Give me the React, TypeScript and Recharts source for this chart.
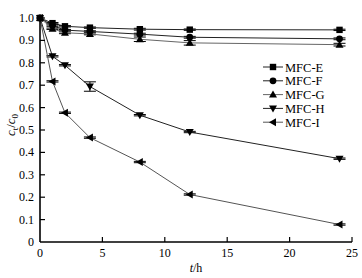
import React from "react";
import { LineChart, Line, XAxis, YAxis, ErrorBar, Legend } from "recharts";

const times = [0, 1, 2, 4, 8, 12, 24];
const mfcE = [1.0, 0.977, 0.963, 0.957, 0.95, 0.948, 0.947];
const mfcF = [1.0, 0.966, 0.946, 0.94, 0.928, 0.914, 0.907];
const mfcG = [1.0, 0.952, 0.934, 0.929, 0.905, 0.889, 0.881];
const mfcH = [1.0, 0.829, 0.789, 0.694, 0.566, 0.491, 0.372];
const mfcI = [1.0, 0.717, 0.577, 0.466, 0.357, 0.212, 0.078];
const errE = [0, 0.003, 0.003, 0.003, 0.004, 0.003, 0.003];
const errF = [0, 0.003, 0.003, 0.003, 0.004, 0.004, 0.004];
const errG = [0, 0.003, 0.004, 0.004, 0.01, 0.01, 0.006];
const errH = [0, 0.003, 0.003, 0.021, 0.003, 0.003, 0.003];
const errI = [0, 0.003, 0.003, 0.003, 0.003, 0.003, 0.003];
const xTicks = [0, 5, 10, 15, 20, 25];
const yTicks = [0, 0.1, 0.2, 0.3, 0.4, 0.5, 0.6, 0.7, 0.8, 0.9, 1.0];
const names = ["MFC-E", "MFC-F", "MFC-G", "MFC-H", "MFC-I"];

const data = times.map((t, i) => ({
  t,
  E: mfcE[i], eE: errE[i],
  F: mfcF[i], eF: errF[i],
  G: mfcG[i], eG: errG[i],
  H: mfcH[i], eH: errH[i],
  I: mfcI[i], eI: errI[i],
}));

const FONT = "'Liberation Serif', 'DejaVu Serif', serif";

function markerPath(kind: string, cx: number, cy: number) {
  switch (kind) {
    case "square":
      return <rect x={cx - 3.2} y={cy - 3.2} width={6.4} height={6.4} fill="#000" />;
    case "circle":
      return <circle cx={cx} cy={cy} r={3.4} fill="#000" />;
    case "up":
      return <polygon points={`${cx},${cy - 4} ${cx - 4},${cy + 3} ${cx + 4},${cy + 3}`} fill="#000" />;
    case "down":
      return <polygon points={`${cx},${cy + 4} ${cx - 4},${cy - 3} ${cx + 4},${cy - 3}`} fill="#000" />;
    case "left":
      return <polygon points={`${cx - 4},${cy} ${cx + 3},${cy - 4} ${cx + 3},${cy + 4}`} fill="#000" />;
  }
  return null;
}

const makeDot = (kind: string) => (props: any) => {
  const { cx, cy, index } = props;
  if (cx == null || cy == null) return <g key={index} />;
  return <g key={`${kind}-${index}`}>{markerPath(kind, cx, cy)}</g>;
};

const kinds = ["square", "circle", "up", "down", "left"];
const strokes = ["#222", "#222", "#666", "#222", "#555"];

const XTick = (props: any) => {
  const { x, y, payload } = props;
  return (
    <g>
      {payload.value !== 0 && (
        <line x1={x} x2={x} y1={y} y2={y - 5} stroke="#000" strokeWidth={1.2} />
      )}
      <text x={x} y={y + 15} textAnchor="middle" fontFamily={FONT} fontSize={12} fill="#000">
        {payload.value}
      </text>
    </g>
  );
};

const YTick = (props: any) => {
  const { x, y, payload } = props;
  const v = payload.value;
  const label = v === 0 ? "0" : v.toFixed(1);
  return (
    <g>
      {v !== 0 && <line x1={x} x2={x + 5} y1={y} y2={y} stroke="#000" strokeWidth={1.2} />}
      <text x={x - 6} y={y + 4} textAnchor="end" fontFamily={FONT} fontSize={12} fill="#000">
        {label}
      </text>
    </g>
  );
};

const LegendContent = () => (
  <svg width={90} height={72}>
    {names.map((n, i) => {
      const cy = 7 + i * 13.8;
      return (
        <g key={n}>
          <line x1={1} x2={21} y1={cy} y2={cy} stroke={strokes[i]} strokeWidth={1} />
          {markerPath(kinds[i], 11, cy)}
          <text x={23} y={cy + 4.5} fontFamily={FONT} fontSize={12.5} fill="#000">
            {n}
          </text>
        </g>
      );
    })}
  </svg>
);

export default function App() {
  const keys = ["E", "F", "G", "H", "I"];
  return (
    <div style={{ position: "absolute", left: 0, top: 0, width: 362, height: 278, background: "#fff" }}>
      <LineChart
        width={362}
        height={278}
        data={data}
        margin={{ top: 18, right: 10, left: 0, bottom: 0 }}
      >
        <XAxis
          dataKey="t"
          type="number"
          domain={[0, 25]}
          ticks={xTicks}
          tickSize={0}
          tickMargin={0}
          height={36}
          axisLine={{ stroke: "#000", strokeWidth: 1.6 }}
          tickLine={false}
          tick={<XTick />}
          interval={0}
        />
        <YAxis
          type="number"
          domain={[0, 1]}
          ticks={yTicks}
          tickSize={0}
          tickMargin={0}
          width={40}
          axisLine={{ stroke: "#000", strokeWidth: 1.6 }}
          tickLine={false}
          tick={<YTick />}
          interval={0}
        />
        {keys.map((k, i) => (
          <Line
            key={k}
            dataKey={k}
            name={names[i]}
            stroke={strokes[i]}
            strokeWidth={1}
            dot={makeDot(kinds[i])}
            activeDot={false}
            isAnimationActive={false}
          >
            <ErrorBar dataKey={`e${k}`} width={6} stroke="#000" strokeWidth={1} direction="y" />
          </Line>
        ))}
        <Legend
          layout="vertical"
          align="center"
          verticalAlign="middle"
          content={<LegendContent />}
          wrapperStyle={{ position: "absolute", left: 262, top: 60, width: 90, height: 72 }}
        />
        <text x={196} y={272} textAnchor="middle" fontFamily={FONT} fontSize={12} fill="#000">
          <tspan fontStyle="italic">t</tspan>/h
        </text>
        <text
          transform="translate(15,125) rotate(-90)"
          textAnchor="middle"
          fontFamily={FONT}
          fontSize={13}
          fill="#000"
        >
          <tspan fontStyle="italic">c</tspan>
          <tspan fontSize={9} dy={3}>t</tspan>
          <tspan dy={-3}>/</tspan>
          <tspan fontStyle="italic">c</tspan>
          <tspan fontSize={9} dy={3}>0</tspan>
        </text>
      </LineChart>
    </div>
  );
}
